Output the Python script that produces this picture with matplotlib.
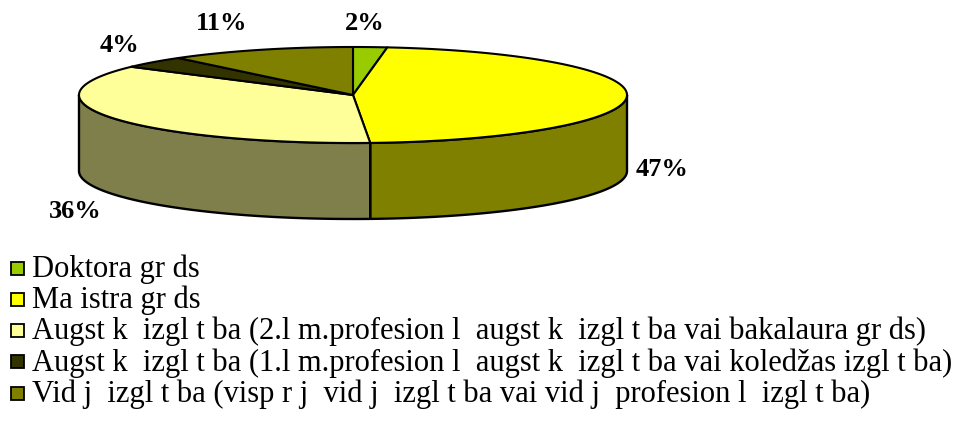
import numpy as np
import matplotlib.pyplot as plt
from matplotlib.patches import Polygon, Rectangle

# data
categories = [
    "Doktora gr ds",
    "Ma istra gr ds",
    "Augst k  izgl t ba (2.l m.profesion l  augst k  izgl t ba vai bakalaura gr ds)",
    "Augst k  izgl t ba (1.l m.profesion l  augst k  izgl t ba vai koledžas izgl t ba)",
    "Vid j  izgl t ba (visp r j  vid j  izgl t ba vai vid j  profesion l  izgl t ba)",
]
shares = [2, 47, 36, 4, 11]
colors = ["#99CC00", "#FFFF00", "#FFFF99", "#333300", "#808000"]

# layout (pixels)
W, H = 958, 447
cx, cy = 353, 95
a, b = 274, 48
depth = 76
label_xy = [(365, 23), (662, 170), (75, 211), (120, 45), (222, 23)]

fig = plt.figure(figsize=(W / 100, H / 100), dpi=100)
ax = fig.add_axes([0, 0, 1, 1])
ax.set_xlim(0, W)
ax.set_ylim(H, 0)
ax.axis("off")


def pt(t, dz=0):
    return cx + a * np.cos(t), cy - b * np.sin(t) + dz


def darker(c):
    r, g, bl = [int(c[i:i + 2], 16) for i in (1, 3, 5)]
    return "#%02x%02x%02x" % (r // 2, g // 2, bl // 2)


fr = np.array(shares) / sum(shares)
ends = np.pi / 2 - 2 * np.pi * np.cumsum(fr)
starts = np.concatenate([[np.pi / 2], ends[:-1]])

# sides (front half only)
for s, e, c in zip(starts, ends, colors):
    lo, hi = e, s
    for k in range(-2, 2):
        f_lo, f_hi = -np.pi + 2 * np.pi * k, 2 * np.pi * k
        l, h = max(lo, f_lo), min(hi, f_hi)
        if h > l:
            t = np.linspace(h, l, 120)
            x, y = pt(t)
            xb, yb = pt(t[::-1], depth)
            poly = np.column_stack([np.concatenate([x, xb]), np.concatenate([y, yb])])
            ax.add_patch(Polygon(poly, closed=True, fc=darker(c), ec="black", lw=1.7,
                                 joinstyle="round"))

# top faces
for s, e, c in zip(starts, ends, colors):
    t = np.linspace(s, e, 200)
    x, y = pt(t)
    poly = np.column_stack([np.concatenate([[cx], x]), np.concatenate([[cy], y])])
    ax.add_patch(Polygon(poly, closed=True, fc=c, ec="black", lw=1.5, joinstyle="round"))

# percentage labels
for v, (lx, ly) in zip(shares, label_xy):
    ax.text(lx, ly, f"{v}%", ha="center", va="center", fontsize=19,
            fontweight="bold", family="Liberation Serif")

# legend
y0, dy = 268, 31.3
for i, (name, c) in enumerate(zip(categories, colors)):
    y = y0 + i * dy
    ax.add_patch(Rectangle((11, y - 6.5), 13, 13, fc=c, ec="black", lw=1.3))
    ax.text(32, y + 1, name, ha="left", va="center", fontsize=22,
            family="Liberation Serif")

fig.savefig("out.png", dpi=100)
